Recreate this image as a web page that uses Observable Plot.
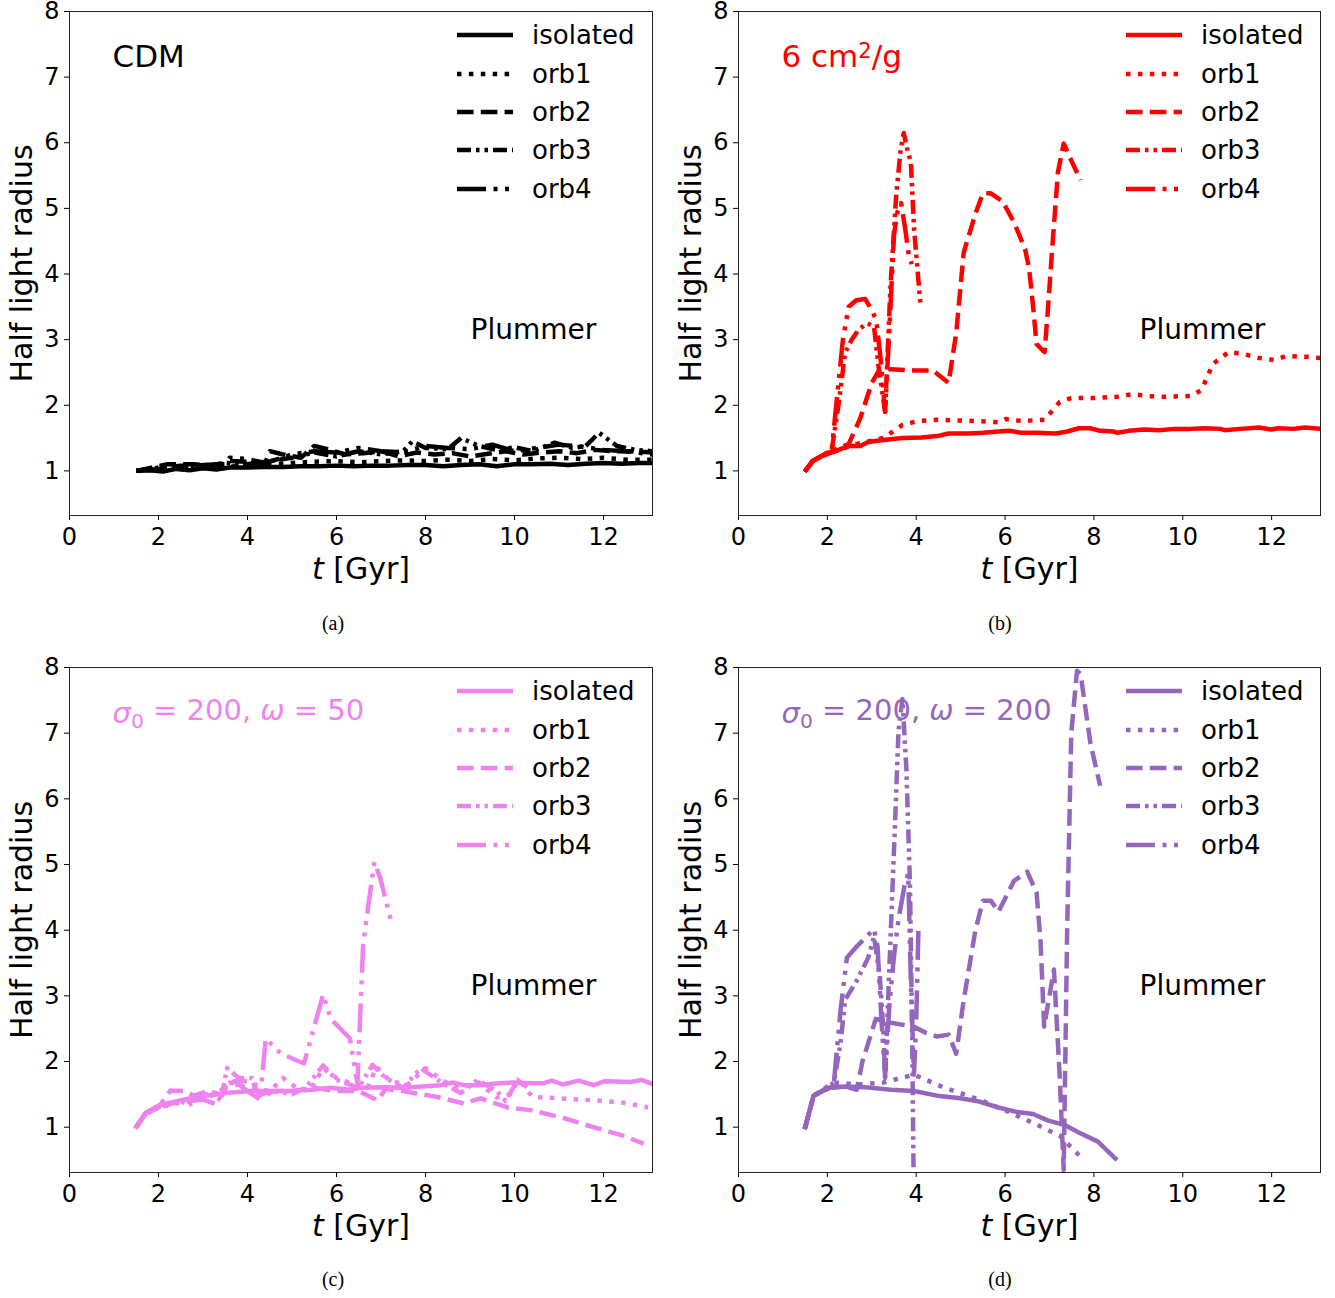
<!DOCTYPE html>
<html><head><meta charset="utf-8">
<script src="https://cdn.jsdelivr.net/npm/d3@7"></script>
<script src="https://cdn.jsdelivr.net/npm/@observablehq/plot@0.6"></script>
<style>
body{margin:0;background:#fff;}
#wrap{position:relative;width:1335px;height:1298px;background:#fff;overflow:hidden;}
.panel{position:absolute;}
.cap{position:absolute;font-family:"Liberation Serif","Times New Roman",serif;font-size:20px;transform:translate(-50%,-50%);color:#000;}
</style></head><body><div id="wrap"></div>
<script>
// ---------- series names, tick labels ----------
const seriesNames = ["isolated", "orb1", "orb2", "orb3", "orb4"];
const xTicks = [0, 2, 4, 6, 8, 10, 12];
const yTicks = [1, 2, 3, 4, 5, 6, 7, 8];
const panelLabels = ["(a)", "(b)", "(c)", "(d)"];
const panelTitles = ["CDM", "6 cm2/g", "σ0 = 200, ω = 50", "σ0 = 200, ω = 200"];
const panelColors = ["#000000", "#ff0000", "#ee82ee", "#9467bd"];

// ---------- (a) CDM ----------
const a_isolated = [[1.5,1.0],[1.8,1.01],[2.1,0.99],[2.4,1.03],[2.7,1.01],[3.0,1.04],[3.3,1.02],[3.6,1.05],[4.0,1.05],[4.4,1.06],[4.8,1.06],[5.2,1.07],[5.6,1.07],[6.0,1.08],[6.4,1.07],[6.8,1.08],[7.2,1.08],[7.6,1.09],[8.0,1.09],[8.4,1.07],[8.8,1.09],[9.2,1.1],[9.6,1.07],[10.0,1.1],[10.4,1.1],[10.8,1.11],[11.2,1.09],[11.6,1.11],[12.0,1.12],[12.4,1.11],[12.8,1.12],[13.1,1.12]];
const a_orb1 = [[1.5,1.0],[2.0,1.02],[2.5,1.04],[3.0,1.05],[3.5,1.06],[4.0,1.08],[4.5,1.1],[5.0,1.12],[5.5,1.14],[6.0,1.15],[6.5,1.13],[7.0,1.15],[7.5,1.16],[8.0,1.15],[8.5,1.17],[9.0,1.15],[9.5,1.18],[10.0,1.16],[10.5,1.19],[11.0,1.2],[11.5,1.18],[12.0,1.2],[12.5,1.17],[13.1,1.17]];
const a_orb2 = [[1.5,1.0],[2.2,1.1],[2.8,1.1],[3.3,1.08],[3.6,1.15],[4.0,1.14],[4.4,1.12],[4.5,1.3],[4.8,1.25],[5.2,1.2],[5.5,1.38],[5.8,1.33],[6.2,1.25],[6.6,1.27],[7.0,1.3],[7.4,1.22],[7.8,1.28],[8.2,1.25],[8.6,1.27],[9.0,1.22],[9.4,1.26],[9.8,1.3],[10.2,1.25],[10.6,1.28],[11.0,1.3],[11.4,1.27],[11.8,1.32],[12.2,1.3],[12.6,1.3],[13.1,1.28]];
const a_orb3 = [[1.5,1.0],[2.0,1.05],[2.5,1.08],[3.0,1.07],[3.5,1.12],[4.0,1.1],[4.5,1.15],[5.0,1.2],[5.5,1.28],[6.0,1.22],[6.5,1.3],[7.0,1.25],[7.5,1.3],[7.7,1.45],[8.0,1.35],[8.5,1.33],[8.8,1.5],[9.2,1.38],[9.6,1.32],[10.0,1.36],[10.4,1.3],[10.9,1.43],[11.3,1.35],[11.6,1.38],[11.9,1.58],[12.3,1.38],[12.7,1.32],[13.1,1.3]];
const a_orb4 = [[1.5,1.0],[2.0,1.03],[2.5,1.06],[3.0,1.09],[3.5,1.1],[3.6,1.2],[4.0,1.18],[4.4,1.12],[5.0,1.25],[5.5,1.3],[6.0,1.28],[6.5,1.35],[7.0,1.3],[7.5,1.28],[8.0,1.38],[8.5,1.35],[9.0,1.33],[9.5,1.4],[10.0,1.3],[10.5,1.35],[11.0,1.4],[11.5,1.37],[12.0,1.32],[12.5,1.3],[13.1,1.25]];

// ---------- (b) 6 cm2/g ----------
const b_isolated = [[1.49,0.99],[1.67,1.15],[1.88,1.23],[2.14,1.29],[2.48,1.38],[2.74,1.38],[2.92,1.44],[3.26,1.47],[3.69,1.5],[4.12,1.51],[4.47,1.53],[4.73,1.57],[5.16,1.57],[5.5,1.58],[5.85,1.6],[6.1,1.61],[6.37,1.58],[6.7,1.58],[7.14,1.57],[7.4,1.6],[7.66,1.65],[7.92,1.65],[8.14,1.61],[8.44,1.6],[8.53,1.58],[8.78,1.61],[9.13,1.63],[9.47,1.62],[9.82,1.64],[10.16,1.64],[10.5,1.65],[10.85,1.64],[10.94,1.62],[11.29,1.64],[11.72,1.66],[11.98,1.63],[12.15,1.65],[12.49,1.64],[12.75,1.66],[13.1,1.64]];
const b_orb1 = [[1.49,0.99],[1.67,1.15],[1.88,1.23],[2.14,1.29],[2.66,1.41],[3.26,1.5],[3.69,1.7],[4.04,1.76],[4.47,1.78],[5.33,1.76],[5.85,1.74],[6.02,1.79],[6.37,1.76],[6.89,1.78],[7.23,2.05],[7.49,2.11],[8.0,2.11],[8.52,2.13],[8.87,2.17],[9.21,2.14],[9.56,2.13],[10.16,2.14],[10.42,2.23],[10.68,2.63],[11.03,2.81],[11.37,2.78],[11.72,2.72],[12.06,2.69],[12.32,2.75],[12.75,2.74],[13.1,2.72]];
const b_orb2 = [[1.49,0.99],[1.67,1.15],[1.88,1.23],[2.1,1.3],[2.3,1.36],[2.48,1.41],[2.74,1.8],[3.0,2.34],[3.18,2.55],[3.43,2.55],[3.95,2.53],[4.38,2.53],[4.73,2.34],[4.9,3.1],[5.07,4.33],[5.33,4.91],[5.5,5.23],[5.68,5.23],[5.94,5.11],[6.2,4.79],[6.45,4.38],[6.54,4.09],[6.63,3.51],[6.71,2.93],[6.89,2.81],[6.97,3.51],[7.06,4.38],[7.19,5.55],[7.32,5.99],[7.49,5.73],[7.7,5.43]];
const b_orb3 = [[1.49,0.99],[1.67,1.15],[1.88,1.23],[2.1,1.32],[2.25,2.0],[2.4,2.8],[2.55,3.0],[2.7,3.15],[2.9,3.25],[3.05,3.2],[3.15,2.6],[3.3,1.9],[3.42,3.8],[3.55,5.2],[3.65,5.9],[3.72,6.15],[3.8,5.9],[3.88,5.7],[3.95,4.7],[4.05,3.9],[4.1,3.5]];
const b_orb4 = [[1.49,0.99],[1.67,1.15],[1.88,1.23],[2.1,1.32],[2.2,2.0],[2.35,3.0],[2.48,3.5],[2.65,3.6],[2.85,3.62],[3.0,3.45],[3.1,3.3],[3.2,2.7],[3.3,1.9],[3.4,3.2],[3.5,4.6],[3.58,4.95],[3.66,5.08],[3.75,4.7],[3.83,4.3],[3.9,4.15]];

// ---------- (c) sigma0 = 200, omega = 50 ----------
const c_isolated = [[1.47,0.98],[1.71,1.22],[2.01,1.33],[2.36,1.39],[2.78,1.45],[3.21,1.49],[3.64,1.53],[4.07,1.55],[4.5,1.55],[4.93,1.55],[5.44,1.57],[5.87,1.6],[6.3,1.57],[6.55,1.6],[7.07,1.61],[7.5,1.6],[7.92,1.62],[8.35,1.64],[8.61,1.68],[8.86,1.64],[9.21,1.64],[9.64,1.67],[9.98,1.68],[10.41,1.67],[10.66,1.67],[10.84,1.71],[11.09,1.65],[11.44,1.71],[11.78,1.64],[12.03,1.7],[12.63,1.69],[12.85,1.72],[13.1,1.66]];
const c_orb1 = [[1.5,1.0],[1.7,1.2],[2.0,1.3],[2.5,1.38],[3.0,1.45],[3.3,1.5],[3.6,1.68],[4.0,1.6],[4.5,1.55],[4.8,1.75],[5.1,1.6],[5.4,1.55],[5.7,1.9],[6.0,1.75],[6.4,1.65],[6.7,1.6],[6.9,1.92],[7.2,1.7],[7.6,1.65],[8.0,1.9],[8.4,1.7],[8.8,1.6],[9.2,1.68],[9.6,1.45],[9.9,1.5],[10.1,1.72],[10.4,1.46],[11.0,1.44],[11.5,1.42],[12.0,1.4],[12.5,1.37],[13.0,1.3]];
const c_orb2 = [[1.5,1.0],[1.7,1.2],[2.0,1.3],[2.27,1.56],[2.6,1.55],[2.8,1.48],[3.1,1.55],[3.4,1.5],[3.7,1.7],[4.1,1.7],[4.3,1.45],[4.6,1.55],[5.0,1.55],[5.5,1.6],[6.0,1.55],[6.5,1.55],[6.92,1.41],[7.1,1.58],[7.5,1.55],[7.73,1.52],[8.27,1.46],[8.86,1.36],[9.24,1.44],[9.84,1.3],[10.36,1.26],[11.1,1.14],[11.87,0.98],[12.4,0.88],[12.9,0.75]];
const c_orb3 = [[1.5,1.0],[1.7,1.2],[2.0,1.3],[2.5,1.4],[2.67,1.33],[3.2,1.55],[3.4,1.4],[3.54,1.9],[3.8,1.75],[4.1,1.75],[4.3,1.5],[4.6,1.55],[5.0,1.5],[5.3,1.6],[5.7,1.94],[6.0,1.72],[6.5,1.6],[6.81,1.95],[7.1,1.75],[7.5,1.6],[7.89,1.9],[8.4,1.66],[8.79,1.52],[9.17,1.72],[9.6,1.55],[9.8,1.4],[10.07,1.72],[10.3,1.6]];
const c_orb4 = [[1.5,1.0],[1.7,1.2],[2.0,1.3],[2.5,1.38],[3.0,1.42],[3.3,1.35],[3.5,1.6],[3.8,1.65],[4.0,1.55],[4.28,1.42],[4.41,2.35],[4.75,2.12],[5.27,1.97],[5.7,3.02],[5.87,2.65],[6.3,2.35],[6.42,1.86],[6.47,1.68],[6.6,3.81],[6.85,5.04],[6.98,4.8],[7.24,4.1]];

// ---------- (d) sigma0 = 200, omega = 200 ----------
const d_isolated = [[1.49,0.97],[1.69,1.48],[2.05,1.6],[2.4,1.62],[2.83,1.61],[3.43,1.57],[3.95,1.55],[4.47,1.48],[4.99,1.44],[5.42,1.39],[5.85,1.3],[6.28,1.23],[6.63,1.2],[6.97,1.1],[7.32,1.04],[7.66,0.92],[8.09,0.78],[8.52,0.5]];
const d_orb1 = [[1.49,0.97],[1.69,1.48],[2.14,1.68],[2.7,1.65],[3.26,1.68],[3.95,1.8],[4.64,1.6],[5.42,1.42],[6.02,1.25],[6.71,1.04],[7.23,0.87],[7.7,0.55]];
const d_orb2 = [[1.49,0.97],[1.69,1.48],[2.05,1.6],[2.4,1.62],[2.66,1.57],[2.79,2.0],[3.09,2.65],[3.43,2.59],[3.95,2.53],[4.21,2.44],[4.47,2.38],[4.73,2.41],[4.9,2.12],[5.07,2.94],[5.33,3.99],[5.5,4.45],[5.68,4.45],[5.85,4.28],[6.2,4.75],[6.5,4.89],[6.71,4.57],[6.8,3.81],[6.88,2.53],[7.1,3.4],[7.23,1.77],[7.32,0.35],[7.4,4.1],[7.49,7.0],[7.62,7.95],[7.7,7.9],[7.92,6.85],[8.14,6.2]];
const d_orb3 = [[1.49,0.97],[1.69,1.48],[2.0,1.6],[2.15,1.68],[2.3,2.3],[2.4,2.94],[2.66,3.23],[2.92,3.58],[3.05,3.9],[3.18,3.3],[3.26,2.5],[3.3,1.75],[3.4,3.5],[3.52,5.56],[3.6,7.02],[3.69,7.52],[3.78,6.44],[3.86,4.69],[3.91,2.35],[3.94,0.35]];
const d_orb4 = [[1.49,0.97],[1.69,1.48],[2.0,1.6],[2.15,1.7],[2.3,2.8],[2.44,3.58],[2.66,3.75],[2.85,3.88],[3.05,4.02],[3.13,3.75],[3.22,2.6],[3.3,1.77],[3.4,2.9],[3.5,3.6],[3.6,4.16],[3.74,4.69],[3.82,4.86],[3.88,3.2],[3.95,1.8],[4.0,2.6],[4.05,4.0]];

const panelData = [
  [a_isolated, a_orb1, a_orb2, a_orb3, a_orb4],
  [b_isolated, b_orb1, b_orb2, b_orb3, b_orb4],
  [c_isolated, c_orb1, c_orb2, c_orb3, c_orb4],
  [d_isolated, d_orb1, d_orb2, d_orb3, d_orb4]
];

// ---------- styling ----------
const LW = 4.5;
const dashes = [null, "4.5,7.4", "16.6,7.2", "14,5,3.5,5,3.5,5", "29,7.5,4,7.5,4,7.5"];
const FONT = "DejaVu Sans";
const titleSizes = [31, 31, 29, 29];

const layout = [
  {left: 0,   top: 0,   width: 667, ml: 69, mr: 15, mt: 11, mb: 85, ymin: 0.32, cap: [333, 623]},
  {left: 667, top: 0,   width: 668, ml: 71, mr: 15, mt: 11, mb: 85, ymin: 0.32, cap: [1000, 623]},
  {left: 0,   top: 656, width: 667, ml: 69, mr: 15, mt: 11, mb: 84, ymin: 0.31, cap: [333, 1279]},
  {left: 667, top: 656, width: 668, ml: 71, mr: 15, mt: 11, mb: 84, ymin: 0.31, cap: [1000, 1279]}
];

const wrap = document.getElementById("wrap");

layout.forEach((L, i) => {
  const color = panelColors[i];
  const lines = panelData[i].map((arr, k) => Plot.line(arr, {
    x: d => d[0], y: d => d[1], stroke: color, strokeWidth: LW,
    strokeDasharray: dashes[k] || undefined, strokeLinejoin: "round", strokeLinecap: "butt", clip: true
  }));
  const svg = Plot.plot({
    width: L.width, height: 600,
    marginLeft: L.ml, marginRight: L.mr, marginTop: L.mt, marginBottom: L.mb,
    style: {fontFamily: FONT, fontSize: "24px", background: "white", color: "black", overflow: "visible"},
    x: {domain: [0, 13.1]},
    y: {domain: [L.ymin, 8]},
    marks: [
      ...lines,
      Plot.frame({stroke: "#222", strokeWidth: 1}),
      Plot.axisX({ticks: xTicks, tickSize: 5, tickPadding: 7, label: null, fontSize: 24, tickFormat: d => String(d)}),
      Plot.axisY({ticks: yTicks, tickSize: 5, tickPadding: 5, label: null, fontSize: 24, tickFormat: d => String(d)}),
      Plot.text([panelTitles[i]], {text: d => d, frameAnchor: "top-left", dx: 43, dy: 46, lineAnchor: "middle", textAnchor: "start", fontSize: titleSizes[i], fill: color}),
      Plot.text(["Plummer"], {text: d => d, frameAnchor: "top-left", dx: 401, dy: 319, lineAnchor: "middle", textAnchor: "start", fontSize: 28, fill: "black"}),
      Plot.text(["Half light radius"], {text: d => d, frameAnchor: "left", dx: -47, rotate: -90, lineAnchor: "middle", textAnchor: "middle", fontSize: 30, fill: "black"}),
      Plot.text(["t [Gyr]"], {text: d => d, frameAnchor: "bottom", dy: 54, lineAnchor: "middle", textAnchor: "middle", fontSize: 30, fill: "black"})
    ]
  });
  svg.classList.add("panel");
  svg.style.left = L.left + "px";
  svg.style.top = L.top + "px";
  wrap.appendChild(svg);

  // rich text formatting
  d3.select(svg).selectAll("text").each(function() {
    const t = this.textContent;
    if (t === "6 cm2/g") {
      this.innerHTML = '6 cm<tspan dy="-0.45em" font-size="0.68em">2</tspan><tspan dy="0.3em">/g</tspan>';
    } else if (t.startsWith("σ0")) {
      const rest = t.split(", ω")[1];
      const v1 = t.slice(2).split(", ω")[0];
      this.innerHTML = '<tspan font-style="italic">σ</tspan><tspan dy="0.28em" font-size="0.7em">0</tspan><tspan dy="-0.28em">' + v1 + ', </tspan><tspan font-style="italic">ω</tspan><tspan>' + rest + '</tspan>';
    } else if (t === "t [Gyr]") {
      this.innerHTML = '<tspan font-style="italic">t</tspan> [Gyr]';
    }
  });

  // legend inside the frame (top right)
  const g = d3.select(svg).append("g")
    .attr("transform", `translate(${L.ml},${L.mt})`)
    .attr("font-family", FONT).attr("font-size", 26).attr("text-anchor", "start");
  const rowY = [24, 63, 101, 139, 178];
  seriesNames.forEach((name, k) => {
    g.append("line").attr("x1", 388).attr("x2", 444).attr("y1", rowY[k]).attr("y2", rowY[k])
      .attr("stroke", color).attr("stroke-width", LW)
      .attr("stroke-dasharray", dashes[k]).attr("stroke-linecap", "butt");
    g.append("text").attr("x", 463).attr("y", rowY[k]).attr("dy", "0.35em")
      .attr("text-anchor", "start").attr("fill", "black").text(name);
  });

  const cap = document.createElement("div");
  cap.className = "cap";
  cap.style.left = L.cap[0] + "px";
  cap.style.top = L.cap[1] + "px";
  cap.textContent = panelLabels[i];
  wrap.appendChild(cap);
});
</script></body></html>
